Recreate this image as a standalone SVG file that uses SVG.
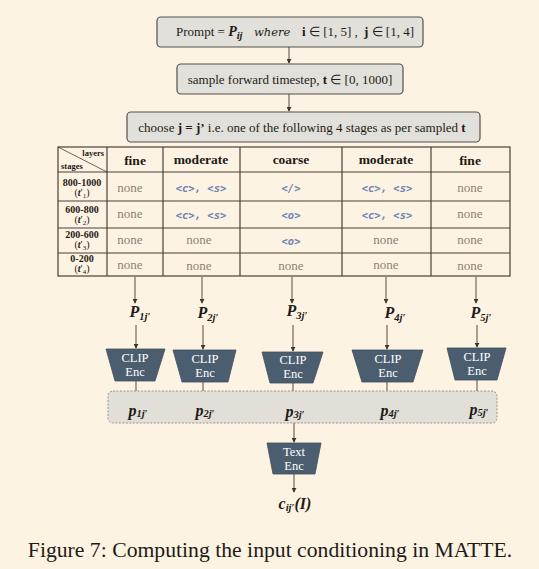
<svg xmlns="http://www.w3.org/2000/svg" width="539" height="569" viewBox="0 0 539 569">
<defs>
<marker id="ah" viewBox="0 0 6 6" refX="5" refY="3" markerWidth="5" markerHeight="5" orient="auto" markerUnits="userSpaceOnUse">
<path d="M0,0 L6,3 L0,6 z" fill="#3b342c"/>
</marker>
<style>
.box{fill:#e2e0db;stroke:#55504a;stroke-width:1.2}
.bt{font-family:"Liberation Serif",serif;font-size:13px;fill:#1e1a16;text-anchor:middle}
.tl{stroke:#4a4036;stroke-width:1.2;fill:none}
.hd{font-family:"Liberation Serif",serif;font-size:13.5px;font-weight:bold;fill:#1e1a16;text-anchor:middle}
.rh{font-family:"Liberation Serif",serif;font-size:10px;font-weight:bold;fill:#1e1a16;text-anchor:middle}
.rt{font-family:"Liberation Serif",serif;font-size:10px;fill:#1e1a16;text-anchor:middle}
.lay{font-family:"Liberation Serif",serif;font-size:8.5px;font-weight:bold;fill:#1e1a16}
.none{font-family:"Liberation Serif",serif;font-size:13px;fill:#8c8274;text-anchor:middle}
.tok{font-family:"DejaVu Sans Mono",monospace;font-size:10.5px;font-weight:bold;font-style:italic;fill:#6f82b4;text-anchor:middle}
.conn{stroke:#7d7264;stroke-width:1.3;fill:none;marker-end:url(#ah)}
.enc{fill:#4b5e70;stroke:#3e4f5e;stroke-width:0.8}
.et{font-family:"Liberation Serif",serif;font-size:12.5px;fill:#ffffff;text-anchor:middle}
.pl{font-family:"Liberation Serif",serif;font-size:16px;font-weight:bold;font-style:italic;fill:#1e1a16;text-anchor:middle}
.sub{font-size:10.5px}
</style>
</defs>
<rect x="0" y="0" width="539" height="569" fill="#fdf3e3"/>

<g id="connectors">
<line class="conn" x1="289" y1="47" x2="289" y2="63"/>
<line class="conn" x1="289" y1="94" x2="289" y2="111"/>
<line class="conn" x1="135" y1="277" x2="135" y2="303"/>
<line class="conn" x1="202" y1="277" x2="202" y2="303"/>
<line class="conn" x1="292" y1="277" x2="292" y2="303"/>
<line class="conn" x1="386" y1="277" x2="386" y2="303"/>
<line class="conn" x1="476" y1="277" x2="476" y2="303"/>
<line class="conn" x1="136" y1="325" x2="136" y2="348"/>
<line class="conn" x1="203" y1="325" x2="203" y2="349"/>
<line class="conn" x1="293" y1="325" x2="293" y2="351"/>
<line class="conn" x1="387" y1="325" x2="387" y2="349"/>
<line class="conn" x1="477" y1="325" x2="477" y2="347"/>
<line class="conn" x1="136" y1="381" x2="136" y2="404"/>
<line class="conn" x1="203" y1="382" x2="203" y2="404"/>
<line class="conn" x1="293" y1="383" x2="293" y2="404"/>
<line class="conn" x1="387" y1="382" x2="387" y2="404"/>
<line class="conn" x1="477" y1="380" x2="477" y2="404"/>
<line class="conn" x1="294" y1="423" x2="294" y2="442"/>
<line class="conn" x1="294" y1="474" x2="294" y2="492"/>
</g>

<g id="prompt">
<rect class="box" x="157" y="17" width="266" height="30" rx="4"/>
<text class="bt" x="176" y="36" text-anchor="start" style="text-anchor:start">Prompt = <tspan font-weight="bold" font-style="italic" font-size="14px">P<tspan class="sub" dy="3">ij</tspan></tspan><tspan x="254" y="36" font-style="italic" font-family="DejaVu Serif" font-size="11.5px">where</tspan><tspan x="302" font-weight="bold">i</tspan> ∈ [1, 5] ,<tspan x="364" font-weight="bold">j</tspan> ∈ [1, 4]</text>
</g>

<g id="sample">
<rect class="box" x="177" y="64" width="226" height="30" rx="4"/>
<text class="bt" x="290" y="84">sample forward timestep, <tspan font-weight="bold">t</tspan> ∈ [0, 1000]</text>
</g>

<g id="choose">
<rect class="box" x="127" y="112" width="353" height="30" rx="4"/>
<text class="bt" x="302" y="132">choose <tspan font-weight="bold">j = j’</tspan> i.e. one of the following 4 stages as per sampled <tspan font-weight="bold">t</tspan></text>
</g>

<g id="table">
<rect class="tl" x="58" y="147" width="452" height="129"/>
<line class="tl" x1="58" y1="172" x2="510" y2="172"/>
<line class="tl" x1="58" y1="201" x2="510" y2="201"/>
<line class="tl" x1="58" y1="228" x2="510" y2="228"/>
<line class="tl" x1="58" y1="253" x2="510" y2="253"/>
<line class="tl" x1="107" y1="147" x2="107" y2="276"/>
<line class="tl" x1="163" y1="147" x2="163" y2="276"/>
<line class="tl" x1="240" y1="147" x2="240" y2="276"/>
<line class="tl" x1="342" y1="147" x2="342" y2="276"/>
<line class="tl" x1="431" y1="147" x2="431" y2="276"/>
<line x1="58" y1="147" x2="107" y2="172" stroke="#4a4036" stroke-width="0.8"/>
<text class="lay" x="104" y="156" text-anchor="end">layers</text>
<text class="lay" x="61" y="169">stages</text>
<text class="hd" x="135" y="165">fine</text>
<text class="hd" x="201" y="164">moderate</text>
<text class="hd" x="291" y="164">coarse</text>
<text class="hd" x="386" y="164">moderate</text>
<text class="hd" x="470" y="165">fine</text>

<text class="rh" x="82" y="186">800-1000</text>
<text class="rt" x="82" y="196">(<tspan font-style="italic" font-weight="bold">t</tspan>′<tspan font-size="7px" dy="2">1</tspan><tspan dy="-2">)</tspan></text>
<text class="rh" x="82" y="213">600-800</text>
<text class="rt" x="82" y="223">(<tspan font-style="italic" font-weight="bold">t</tspan>′<tspan font-size="7px" dy="2">2</tspan><tspan dy="-2">)</tspan></text>
<text class="rh" x="82" y="238">200-600</text>
<text class="rt" x="82" y="248">(<tspan font-style="italic" font-weight="bold">t</tspan>′<tspan font-size="7px" dy="2">3</tspan><tspan dy="-2">)</tspan></text>
<text class="rh" x="82" y="262">0-200</text>
<text class="rt" x="82" y="272">(<tspan font-style="italic" font-weight="bold">t</tspan>′<tspan font-size="7px" dy="2">4</tspan><tspan dy="-2">)</tspan></text>

<text class="none" x="130" y="192">none</text>
<text class="tok" x="201" y="192">&lt;c&gt;, &lt;s&gt;</text>
<text class="tok" x="291" y="192">&lt;/&gt;</text>
<text class="tok" x="387" y="192">&lt;c&gt;, &lt;s&gt;</text>
<text class="none" x="470" y="192">none</text>

<text class="none" x="130" y="218">none</text>
<text class="tok" x="201" y="219">&lt;c&gt;, &lt;s&gt;</text>
<text class="tok" x="291" y="219">&lt;o&gt;</text>
<text class="tok" x="387" y="219">&lt;c&gt;, &lt;s&gt;</text>
<text class="none" x="470" y="218">none</text>

<text class="none" x="130" y="244">none</text>
<text class="none" x="199" y="244">none</text>
<text class="tok" x="291" y="245">&lt;o&gt;</text>
<text class="none" x="386" y="244">none</text>
<text class="none" x="470" y="244">none</text>

<text class="none" x="130" y="269">none</text>
<text class="none" x="199" y="270">none</text>
<text class="none" x="291" y="270">none</text>
<text class="none" x="386" y="269">none</text>
<text class="none" x="470" y="270">none</text>
</g>

<g id="P-labels">
<text class="pl" x="140" y="317">P<tspan class="sub" dy="3">1j′</tspan></text>
<text class="pl" x="208" y="318">P<tspan class="sub" dy="3">2j′</tspan></text>
<text class="pl" x="297" y="316">P<tspan class="sub" dy="3">3j′</tspan></text>
<text class="pl" x="395" y="318">P<tspan class="sub" dy="3">4j′</tspan></text>
<text class="pl" x="481" y="318">P<tspan class="sub" dy="3">5j′</tspan></text>
</g>

<g id="clip1"><polygon class="enc" points="106,349 165,349 155,381 115,381"/><text class="et" x="135" y="362">CLIP</text><text class="et" x="135" y="376">Enc</text></g>
<g id="clip2"><polygon class="enc" points="173,350 236,350 228,382 182,382"/><text class="et" x="205" y="363">CLIP</text><text class="et" x="205" y="377">Enc</text></g>
<g id="clip3"><polygon class="enc" points="262,352 323,352 313,383 270,383"/><text class="et" x="293" y="364">CLIP</text><text class="et" x="293" y="378">Enc</text></g>
<g id="clip4"><polygon class="enc" points="352,350 423,350 413,382 362,382"/><text class="et" x="388" y="363">CLIP</text><text class="et" x="388" y="377">Enc</text></g>
<g id="clip5"><polygon class="enc" points="447,348 506,348 497,380 455,380"/><text class="et" x="477" y="361">CLIP</text><text class="et" x="477" y="375">Enc</text></g>

<g id="embeddings">
<rect x="108" y="391" width="389" height="32" rx="5" fill="#e2dfd8" stroke="#9a948b" stroke-width="1" stroke-dasharray="2,1.5"/>
<text class="pl" x="138" y="416">p<tspan class="sub" dy="1">1j′</tspan></text>
<text class="pl" x="205" y="416">p<tspan class="sub" dy="1">2j′</tspan></text>
<text class="pl" x="295" y="417">p<tspan class="sub" dy="1">3j′</tspan></text>
<text class="pl" x="390" y="416">p<tspan class="sub" dy="1">4j′</tspan></text>
<text class="pl" x="479" y="415">p<tspan class="sub" dy="1">5j′</tspan></text>
</g>

<g id="textenc"><polygon class="enc" points="267,443 321,443 315,474 273,474"/><text class="et" x="294" y="456">Text</text><text class="et" x="294" y="470">Enc</text></g>

<g id="output">
<text class="pl" x="295" y="509">c<tspan class="sub" dy="2">ij′</tspan><tspan dy="-2">(I)</tspan></text>
</g>

<text x="270" y="557" text-anchor="middle" font-family="Liberation Serif, serif" font-size="21.7px" fill="#1e1a16">Figure 7: Computing the input conditioning in MATTE.</text>
</svg>
